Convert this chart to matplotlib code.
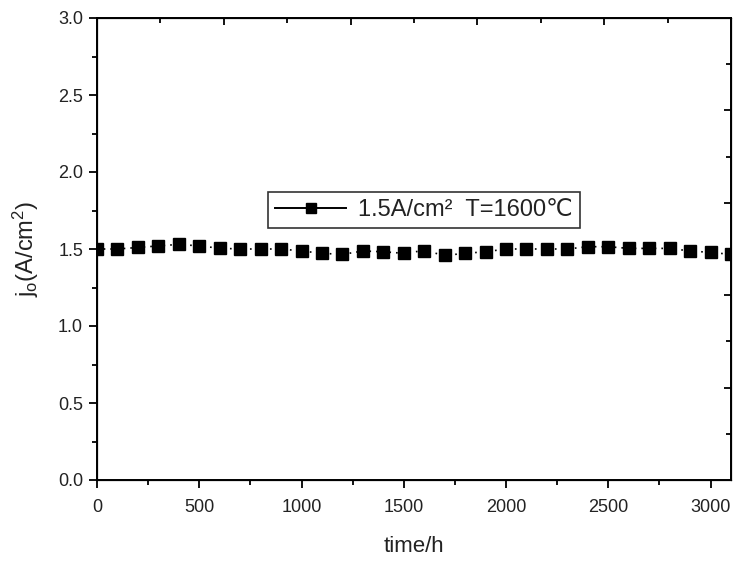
import numpy as np
import matplotlib.pyplot as plt
from matplotlib.lines import Line2D

plt.rcParams['font.family'] = ['Liberation Sans', 'DejaVu Sans']
plt.rcParams['mathtext.fontset'] = 'custom'
plt.rcParams['mathtext.rm'] = 'Liberation Sans'
plt.rcParams['mathtext.it'] = 'Liberation Sans'

# ---- datos ----
time_h = [0, 100, 200, 300, 400, 500, 600, 700, 800, 900,
          1000, 1100, 1200, 1300, 1400, 1500, 1600, 1700, 1800, 1900,
          2000, 2100, 2200, 2300, 2400, 2500, 2600, 2700, 2800, 2900,
          3000, 3100]
j0 = [1.50, 1.50, 1.51, 1.52, 1.53, 1.52, 1.505, 1.50, 1.50, 1.50,
      1.487, 1.472, 1.465, 1.487, 1.482, 1.472, 1.49, 1.458, 1.472, 1.482,
      1.50, 1.50, 1.50, 1.50, 1.515, 1.515, 1.504, 1.504, 1.504, 1.487,
      1.478, 1.465]
legend_label = '1.5A/cm\u00b2  T=1600\u2103'

fig = plt.figure(figsize=(7.36, 5.62), dpi=100)
ax = fig.add_axes([97/736, 1 - 480/562, 634/736, 462/562])

ax.plot(time_h, j0, color='black', linestyle=(0, (1, 3)), linewidth=1.2,
        marker='s', markersize=8.5, markerfacecolor='black',
        markeredgecolor='black', clip_on=True)

ax.set_xlim(0, 3100)
ax.set_ylim(0, 3.0)
ax.set_xticks(np.arange(0, 3001, 500))
ax.set_xticks(np.arange(250, 3100, 500), minor=True)
ax.set_yticks(np.arange(0, 3.01, 0.5))
ax.set_yticks(np.arange(0.25, 3.0, 0.5), minor=True)
ax.set_yticklabels([f'{v:.1f}' for v in np.arange(0, 3.01, 0.5)])

ax.tick_params(which='major', direction='out', length=6, width=1.3,
               labelsize=13, colors='black', labelcolor='#222222')
ax.tick_params(axis='x', which='major', pad=8)
ax.tick_params(axis='y', which='major', pad=4)
ax.tick_params(which='minor', direction='out', length=3.5, width=1.3)
for s in ax.spines.values():
    s.set_linewidth(1.4)

ax.set_xlabel('time/h', fontsize=16, labelpad=14, color='#222222')
ax.set_ylabel(r'j$_{\rm o}$(A/cm$^2$)', fontsize=17, labelpad=12, color='#222222')

# ejes espejo (arriba / derecha) sin etiquetas
top = ax.twiny()
top.set_xlim(ax.get_xlim())
top.set_xticks(np.arange(620, 3100, 620))
top.set_xticks(np.arange(310, 3100, 620), minor=True)
top.tick_params(which='major', direction='in', length=5, width=1.3, labeltop=False)
top.tick_params(which='minor', direction='in', length=3.5, width=1.3)
top.set_xticklabels([])

right = ax.twinx()
right.set_ylim(ax.get_ylim())
right.set_yticks(np.arange(0.6, 3.0, 0.6))
right.set_yticks(np.arange(0.3, 3.0, 0.6), minor=True)
right.tick_params(which='major', direction='in', length=5, width=1.3)
right.tick_params(which='minor', direction='in', length=3.5, width=1.3)
right.set_yticklabels([])

handle = Line2D([], [], color='black', linestyle='-', linewidth=1.4,
                marker='s', markersize=7)
leg = ax.legend([handle], [legend_label], loc='lower left',
                bbox_to_anchor=(0.27, 0.545), borderaxespad=0,
                fontsize=17, frameon=True, fancybox=False,
                edgecolor='black', handlelength=3.0, handletextpad=0.5,
                borderpad=0.3, labelcolor='#222222')
leg.get_frame().set_linewidth(1.2)
leg.set_zorder(10)

fig.savefig('out.png', dpi=100)
